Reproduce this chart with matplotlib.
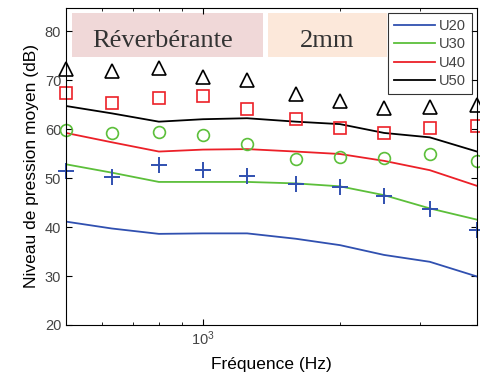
import matplotlib.pyplot as plt
from matplotlib.ticker import NullFormatter
import numpy as np

# bandes de tiers d'octave
freq = [500, 630, 800, 1000, 1250, 1600, 2000, 2500, 3150, 4000]

# courbes calculees
u20 = [41.1, 39.7, 38.6, 38.7, 38.7, 37.6, 36.3, 34.3, 32.9, 29.9]
u30 = [52.8, 51.1, 49.2, 49.2, 49.2, 48.9, 48.3, 46.5, 43.8, 41.5]
u40 = [59.2, 57.3, 55.4, 55.8, 55.9, 55.4, 54.9, 53.5, 51.6, 48.4]
u50 = [64.7, 63.2, 61.5, 62.0, 62.2, 61.5, 61.0, 59.2, 58.3, 55.4]

# mesures
m20 = [51.5, 50.3, 52.7, 51.6, 50.4, 48.7, 48.1, 46.4, 43.6, 39.4]
m30 = [59.9, 59.1, 59.3, 58.8, 56.9, 53.9, 54.2, 54.1, 54.9, 53.5]
m40 = [67.3, 65.3, 66.3, 66.7, 64.0, 62.0, 60.3, 59.2, 60.3, 60.6]
m50 = [72.2, 71.9, 72.4, 70.6, 70.1, 67.2, 65.8, 64.2, 64.5, 65.0]

labels = ['U20', 'U30', 'U40', 'U50']
colors = ['#3050b0', '#5cbf3a', '#ec2028', '#000000']

plt.rcParams['font.family'] = ['Liberation Sans', 'DejaVu Sans']

fig = plt.figure(figsize=(4.81, 3.77), dpi=100)
ax = fig.add_axes([66/481, 1-325/377, (477-66)/481, (325-8)/377])

for y, c, lab in zip([u20, u30, u40, u50], colors, labels):
    ax.plot(freq, y, color=c, lw=1.3, label=lab)

ax.plot(freq, m20, '+', color=colors[0], ms=11, mew=1.4, clip_on=False)
ax.plot(freq, m30, 'o', color=colors[1], mfc='none', ms=8.5, mew=1.2, clip_on=False)
ax.plot(freq, m40, 's', color=colors[2], mfc='none', ms=8.5, mew=1.2, clip_on=False)
ax.plot(freq, m50, '^', color=colors[3], mfc='none', ms=9.5, mew=1.2, clip_on=False)

ax.set_xscale('log')
ax.set_xlim(500, 4000)
ax.set_ylim(20, 84.7)
ax.set_yticks([20, 30, 40, 50, 60, 70, 80])
ax.xaxis.set_minor_formatter(NullFormatter())
ax.tick_params(direction='in', which='both', top=True, right=True,
               labelsize=10.5, labelcolor='#444444')
ax.tick_params(which='major', length=4)
ax.tick_params(which='minor', length=2.5)
ax.set_xlabel('Fréquence (Hz)', fontsize=12.5, labelpad=6)
ax.set_ylabel('Niveau de pression moyen (dB)', fontsize=12.5, labelpad=4)

ax.add_patch(plt.Rectangle((0.0146, 0.845), 0.465, 0.139, transform=ax.transAxes,
                           fc='#f0d8d8', ec='none', zorder=0.5))
ax.add_patch(plt.Rectangle((0.491, 0.845), 0.29, 0.139, transform=ax.transAxes,
                           fc='#fce8da', ec='none', zorder=0.5))
ax.text(0.236, 0.877, 'Réverbérante', transform=ax.transAxes, fontsize=19,
        family='Liberation Serif', color='#333333', ha='center', va='baseline')
ax.text(0.635, 0.877, '2mm', transform=ax.transAxes, fontsize=19,
        family='Liberation Serif', color='#333333', ha='center', va='baseline')

leg = ax.legend(loc='upper right', fontsize=10.5, frameon=True, fancybox=False,
                edgecolor='black', borderaxespad=0.35, handlelength=2.8,
                labelspacing=0.3, borderpad=0.4, handletextpad=0.3)
leg.get_frame().set_linewidth(0.8)
for t in leg.get_texts():
    t.set_color('#444444')

fig.savefig('out.png', dpi=100)
